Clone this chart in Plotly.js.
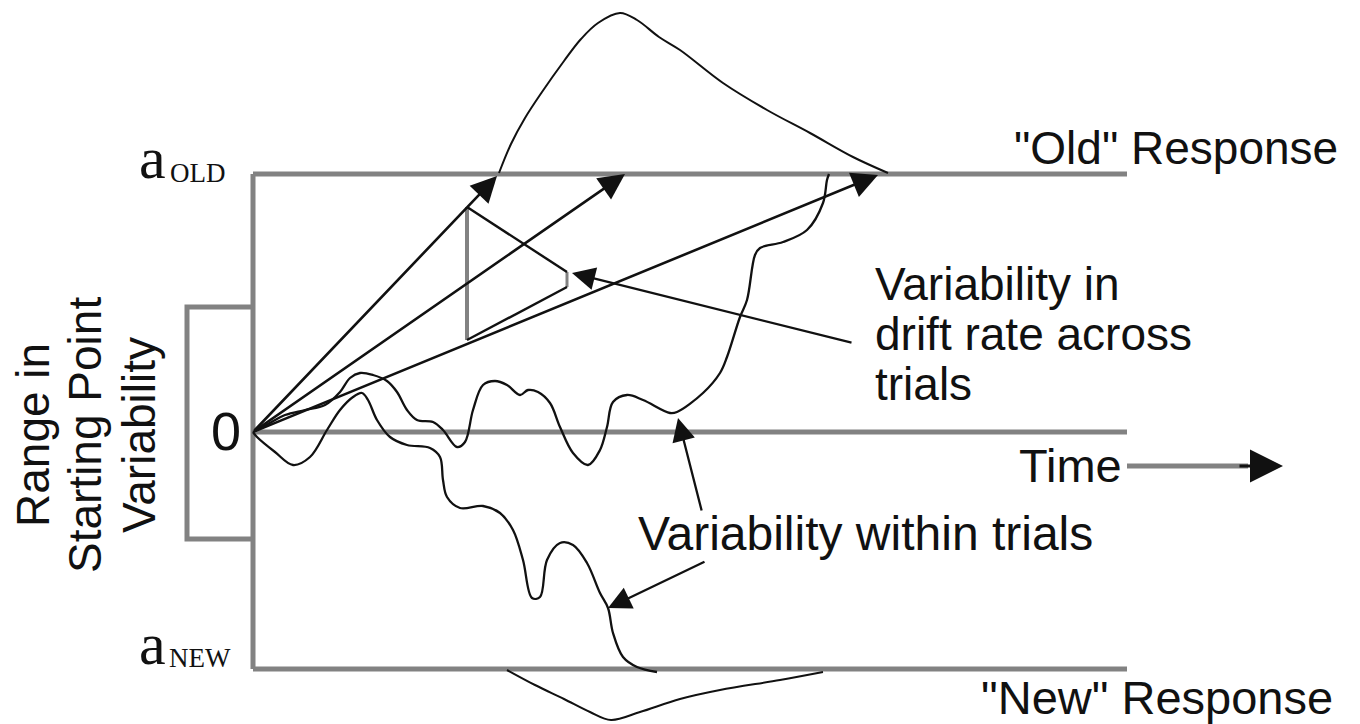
<!DOCTYPE html>
<html>
<head>
<meta charset="utf-8">
<script src="https://cdn.plot.ly/plotly-3.0.1.min.js"></script>
<style>html,body{margin:0;padding:0;background:#fff;}#chart{width:1360px;height:724px;}</style>
</head>
<body>
<div id="chart"></div>
<script>
// ---- Diffusion model diagram data (time t, evidence e) ----
const aOld = 258;            // upper boundary ("Old")
const aNew = -237;           // lower boundary ("New")
const boundaryEndT = 874;    // where boundaries / zero line end

// starting point range (bracket)
const startRangeT = -66;
const startRangeTop = 125;
const startRangeBottom = -107;

// drift rates (arrow tips from origin)
const driftTipT = [244, 372, 625];
const driftTipE = [256, 258, 257];

// range of drift rates (vertical bar) and chevron
const driftRangeT = 214;
const driftRangeE = [225, 92];
const chevronT = [214, 314];
const chevronUpperE = [225, 160];
const chevronLowerE = [92, 145];
const chevronTipE = [160, 145];

// within-trial sample paths
const pathUpT = [0,15,32,52,72,87,97,107,120,134,144,154,164,180,190,204,212,220,230,242,254,267,275,285,297,307,320,335,347,354,360,374,390,417,424,450,467,474,487,494,502,507,530,554,570,574,576];
const pathUpE = [0,8,17,22,27,40,54,59,57,51,40,22,12,10,2,-15,-10,22,47,51,47,37,42,40,29,5,-21,-33,-18,5,30,37,32,19,20,39,59,75,115,132,177,184,190,202,229,252,258];
const pathLowT = [0,4,22,40,57,74,87,100,109,115,124,137,154,177,187,190,194,207,230,247,260,270,279,287,294,307,320,334,347,355,360,370,384,404];
const pathLowE = [0,-5,-20,-33,-25,2,22,35,39,32,12,-5,-13,-16,-25,-48,-65,-76,-74,-81,-98,-128,-166,-165,-128,-111,-113,-131,-161,-176,-201,-225,-235,-240];

// response time distributions
const distOldT = [246,258,272,289,311,328,345,367,384,406,427,470,514,557,600,635];
const distOldE = [259,288,314,340,371,393,409,419,412,395,382,349,322,299,275,259];
const distNewT = [254,282,311,337,358,387,427,467,527,570];
const distNewE = [-238,-253,-267,-280,-288,-280,-267,-258,-248,-240];

// time axis arrow
const timeArrowT = [874, 995, 1030];
const timeArrowE = -34;

// text labels
const labelOld = '"Old" Response';
const labelNew = '"New" Response';
const labelDrift = ['Variability in', 'drift rate across', 'trials'];
const labelWithin = 'Variability within trials';
const labelTime = 'Time';
const labelStart = ['Range in', 'Starting Point', 'Variability'];
const labelZero = '0';

// ---- styles ----
const GRAY = '#828282';
const BLACK = '#111111';
const SANS = 'Liberation Sans, Arial, sans-serif';
const SERIF = 'Liberation Serif, Times New Roman, serif';

const traces = [];
function line(x, y, color, width, shape) {
  traces.push({type: 'scatter', mode: 'lines', x: x, y: y, hoverinfo: 'skip',
    line: {color: color, width: width, shape: shape || 'linear', smoothing: 1}});
}
// boundaries and zero line
line([0, boundaryEndT], [aOld, aOld], GRAY, 5);
line([0, boundaryEndT], [0, 0], GRAY, 5);
line([0, boundaryEndT], [aNew, aNew], GRAY, 5);
line([0, 0], [aOld, aNew], GRAY, 5);
// starting point bracket
line([0, startRangeT, startRangeT, 0], [startRangeTop, startRangeTop, startRangeBottom, startRangeBottom], GRAY, 5);
// drift range bar
line([driftRangeT, driftRangeT], driftRangeE, GRAY, 4);
line([chevronT[1], chevronT[1]], chevronTipE, GRAY, 3);
line(chevronT, chevronUpperE, BLACK, 2.4);
line(chevronT, chevronLowerE, BLACK, 2.4);
// distributions
line(distOldT, distOldE, BLACK, 2, 'spline');
line(distNewT, distNewE, BLACK, 2, 'spline');
// sample paths
line(pathUpT, pathUpE, BLACK, 2.3, 'spline');
line(pathLowT, pathLowE, BLACK, 2.3, 'spline');
// time arrow shaft
line([timeArrowT[0], timeArrowT[1]], [timeArrowE, timeArrowE], GRAY, 5);

const annotations = [];
function arrow(tx, te, hx, he, width, size) {
  annotations.push({x: hx, y: he, ax: tx, ay: te, xref: 'x', yref: 'y', axref: 'x', ayref: 'y',
    text: '', showarrow: true, arrowhead: 2, arrowsize: size, arrowwidth: width, arrowcolor: BLACK, standoff: 0, startstandoff: 0});
}
for (let i = 0; i < driftTipT.length; i++) arrow(0, 0, driftTipT[i], driftTipE[i], 2.6, 2.0);
arrow(600, 89, 319, 159, 2.3, 2.0);      // drift variability pointer
arrow(449, -80, 425, 14, 2.3, 2.0);      // within-trial pointer (upper)
arrow(453, -129, 355, -176, 2.3, 2.0);   // within-trial pointer (lower)
arrow(timeArrowT[1] - 10, timeArrowE, timeArrowT[2], timeArrowE, 3, 2.2);

function label(text, x, y, size, family, xanchor, angle) {
  annotations.push({x: x, y: y, xref: 'x', yref: 'y', text: text, showarrow: false,
    xanchor: xanchor || 'center', yanchor: 'middle', textangle: angle || 0,
    font: {family: family, size: size, color: BLACK}});
}
label('a', -101, 274, 60, SERIF);
label('OLD', -55, 259, 27, SERIF);
label('a', -101, -212, 60, SERIF);
label('NEW', -53, -226, 27, SERIF);
label(labelZero, -27, 1, 54, SANS);
label(labelOld, 1087, 284, 46, SANS, 'right');
label(labelNew, 1082, -265, 47, SANS, 'right');
label(labelDrift[0], 620, 148, 46, SANS, 'left');
label(labelDrift[1], 620, 98, 46, SANS, 'left');
label(labelDrift[2], 620, 48, 46, SANS, 'left');
label(labelTime, 871, -33, 47, SANS, 'right');
label(labelWithin, 383, -101, 48, SANS, 'left');
label(labelStart[0], -220, -3, 46, SANS, 'center', -90);
label(labelStart[1], -168, -3, 46, SANS, 'center', -90);
label(labelStart[2], -114, -3, 46, SANS, 'center', -90);

const layout = {
  width: 1360, height: 724,
  margin: {l: 0, r: 0, t: 0, b: 0, pad: 0},
  paper_bgcolor: '#ffffff', plot_bgcolor: '#ffffff',
  showlegend: false,
  xaxis: {range: [-253, 1107], visible: false, fixedrange: true},
  yaxis: {range: [-292, 432], visible: false, fixedrange: true},
  annotations: annotations
};
Plotly.newPlot('chart', traces, layout, {staticPlot: true, displayModeBar: false});
</script>
</body>
</html>
